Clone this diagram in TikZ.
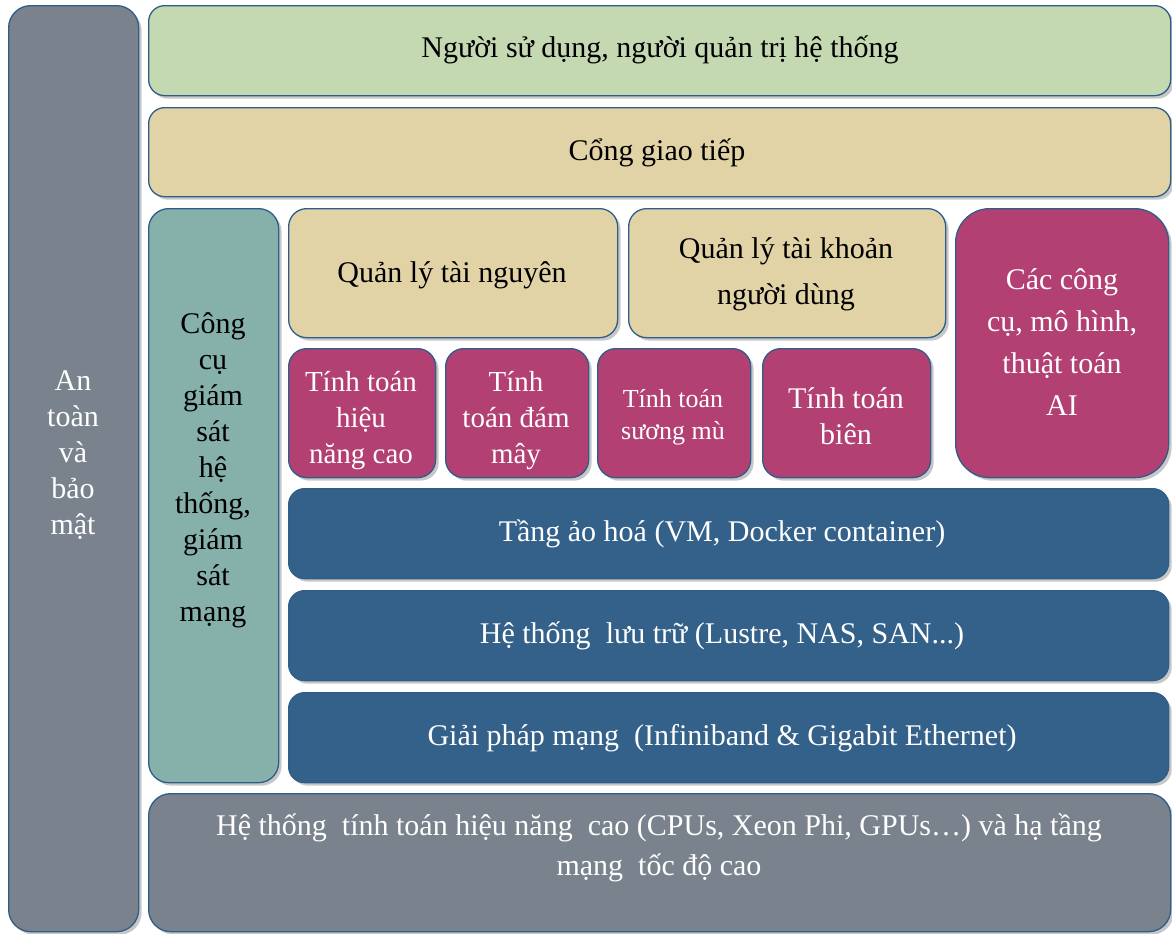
\documentclass[tikz,border=0pt]{standalone}
\usepackage{fontspec}
\setmainfont{Liberation Serif}
\usetikzlibrary{shadows}

\definecolor{edgeblue}{HTML}{2E5D8A}
\definecolor{slategray}{HTML}{7A838D}
\definecolor{sage}{HTML}{C4D8B2}
\definecolor{sand}{HTML}{E2D3A7}
\definecolor{teal}{HTML}{85B1AA}
\definecolor{plum}{HTML}{B24072}
\definecolor{navy}{HTML}{336189}

\tikzset{
  panel/.style={draw=edgeblue, line width=1.3bp, anchor=north west, inner sep=0,
    drop shadow={shadow xshift=3bp, shadow yshift=-3bp, opacity=.22, fill=black}},
  lbl/.style={align=center, inner sep=0, font=\fontsize{30bp}{36bp}\selectfont},
  dark/.style={lbl, text=black},
  light/.style={lbl, text=white},
}

\begin{document}
\begin{tikzpicture}[x=1bp, y=-1bp]
\useasboundingbox (0,0) rectangle (1172,934);

% panels
\node[panel, fill=slategray, rounded corners=22bp, minimum width=130bp, minimum height=926bp] (security) at (8,5) {};
\node[panel, fill=sage, rounded corners=16bp, minimum width=1022bp, minimum height=90bp] (users) at (148,5) {};
\node[panel, fill=sand, rounded corners=16bp, minimum width=1022bp, minimum height=89bp] (gateway) at (148,107) {};
\node[panel, fill=teal, rounded corners=20bp, minimum width=130bp, minimum height=574bp] (monitor) at (148,208) {};
\node[panel, fill=sand, rounded corners=18bp, minimum width=329bp, minimum height=129bp] (resources) at (288,208) {};
\node[panel, fill=sand, rounded corners=18bp, minimum width=317bp, minimum height=129bp] (accounts) at (628,208) {};
\node[panel, fill=plum, rounded corners=34bp, minimum width=213bp, minimum height=269bp] (ai) at (955,208) {};
\node[panel, fill=plum, rounded corners=18bp, minimum width=147bp, minimum height=129bp] (hpc) at (288,348) {};
\node[panel, fill=plum, rounded corners=18bp, minimum width=143bp, minimum height=129bp] (cloud) at (445,348) {};
\node[panel, fill=plum, rounded corners=18bp, minimum width=153bp, minimum height=129bp] (fog) at (597,348) {};
\node[panel, fill=plum, rounded corners=18bp, minimum width=168bp, minimum height=129bp] (edge) at (762,348) {};
\node[panel, fill=navy, rounded corners=16bp, minimum width=880bp, minimum height=90bp] (virt) at (288,488) {};
\node[panel, fill=navy, rounded corners=16bp, minimum width=880bp, minimum height=90bp] (storage) at (288,590) {};
\node[panel, fill=navy, rounded corners=16bp, minimum width=880bp, minimum height=90bp] (network) at (288,692) {};
\node[panel, fill=slategray, rounded corners=22bp, minimum width=1022bp, minimum height=138bp] (infra) at (148,793) {};

% labels
\node[light] (security-t) at (73,455) {An\\toàn\\và\\bảo\\mật};
\node[dark] (users-t) at (660,50) {Người sử dụng, người quản trị hệ thống};
\node[dark] (gateway-t) at (657,153) {Cổng giao tiếp};
\node[dark] (monitor-t) at (213,470) {Công\\cụ\\giám\\sát\\hệ\\thống,\\giám\\sát\\mạng};
\node[dark] (resources-t) at (452,275) {Quản lý tài nguyên};
\node[dark, font=\fontsize{30bp}{46bp}\selectfont] (accounts-t) at (786,274) {Quản\ lý\ tài\ khoản\\người dùng};
\node[light, font=\fontsize{30bp}{42bp}\selectfont] (ai-t) at (1062,342) {Các công\\cụ, mô hình,\\thuật toán\\AI};
\node[light, font=\fontsize{29bp}{36bp}\selectfont] (hpc-t) at (361,421) {Tính toán\\hiệu\\năng cao};
\node[light, font=\fontsize{29bp}{36bp}\selectfont] (cloud-t) at (516,421) {Tính\\toán đám\\mây};
\node[light, font=\fontsize{26bp}{32bp}\selectfont] (fog-t) at (673,417) {Tính toán\\sương mù};
\node[light] (edge-t) at (846,416) {Tính\ toán\\biên};
\node[light] (virt-t) at (722,534) {Tầng ảo hoá (VM, Docker container)};
\node[light] (storage-t) at (722,636) {Hệ thống\ \ lưu trữ (Lustre, NAS, SAN...)};
\node[light] (network-t) at (722,738) {Giải pháp mạng\ \ (Infiniband \& Gigabit Ethernet)};
\node[light, font=\fontsize{30bp}{40bp}\selectfont] (infra-t) at (659,848) {Hệ thống\ \ tính toán hiệu năng\ \ cao (CPUs, Xeon Phi, GPUs…) và hạ tầng\\mạng\ \ tốc độ cao};
\end{tikzpicture}
\end{document}
